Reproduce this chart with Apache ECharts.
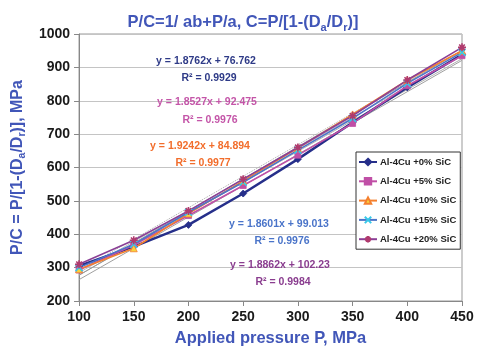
<!DOCTYPE html>
<html><head><meta charset="utf-8">
<script src="https://cdn.jsdelivr.net/npm/echarts@6/dist/echarts.min.js"></script>
<style>html,body{margin:0;padding:0;background:#fff}#c{width:486px;height:352px}</style>
</head><body><div id="c"></div>
<script>
var pressures = [100, 150, 200, 250, 300, 350, 400, 450];
var seriesNames = ['Al-4Cu +0% SiC', 'Al-4Cu +5% SiC', 'Al-4Cu +10% SiC', 'Al-4Cu +15% SiC', 'Al-4Cu +20% SiC'];
var sic0  = [305, 363, 428, 522, 625, 735, 840, 938];
var sic5  = [293, 368, 456, 546, 637, 732, 845, 935];
var sic10 = [295, 358, 462, 560, 658, 759, 862, 950];
var sic15 = [300, 370, 466, 556, 652, 747, 852, 945];
var sic20 = [310, 382, 470, 565, 660, 755, 862, 960];
// linear trendline end values (at P=100 and P=450), as drawn
var trendStart = [264, 278, 277, 285, 291];
var trendEnd   = [921, 926, 951, 936, 951];
var equations = ['y = 1.8762x + 76.762', 'y = 1.8527x + 92.475', 'y = 1.9242x + 84.894', 'y = 1.8601x + 99.013', 'y = 1.8862x + 102.23'];
var rSquared = ['R\u00b2 = 0.9929', 'R\u00b2 = 0.9976', 'R\u00b2 = 0.9977', 'R\u00b2 = 0.9976', 'R\u00b2 = 0.9984'];
var xTicks = [100, 150, 200, 250, 300, 350, 400, 450];
var yTicks = [200, 300, 400, 500, 600, 700, 800, 900, 1000];

var values = [sic0, sic5, sic10, sic15, sic20];
var lineColors = ['#262F8A', '#C04FA6', '#F4802F', '#4C74C8', '#8B3F96'];
var markerFill = ['#262F8A', '#C04FA6', '#F7D33C', '#37C8E8', '#8B3F96'];
var markerBorder = ['#262F8A', '#C04FA6', '#F4802F', '#37C8E8', '#B03A6E'];
var symbols = ['diamond', 'rect', 'triangle',
  'path://M0,0 L10,10 M10,0 L0,10',
  'path://M5,0 L5,10 M0,5 L10,5 M1.5,1.5 L8.5,8.5 M8.5,1.5 L1.5,8.5'];
var symbolSizes = [7, 6, 7, 7, 8];
var lineWidths = [2.5, 1.6, 1.6, 1.6, 1.6];
var annColors = ['#2E3A87', '#C455A8', '#F26D2B', '#4A74C9', '#8A3D8F'];
var trendColors = ['#a0a0a0', '#b0b0b0', '#999999', '#bbbbbb', '#aaaaaa'];

var font = 'Liberation Sans, Arial, sans-serif';
var blue = '#4156B8';
var series = [];
for (var i = 0; i < 5; i++) {
  series.push({
    name: 'trend' + i, type: 'line', silent: true, symbol: 'none', z: 1,
    data: [[xTicks[0], trendStart[i]], [xTicks[xTicks.length - 1], trendEnd[i]]],
    lineStyle: { color: trendColors[i], width: 1, type: i === 4 ? 'dotted' : 'solid' }
  });
}
for (var i = 0; i < 5; i++) {
  var isPath = i >= 3;
  series.push({
    name: seriesNames[i], type: 'line', z: 3,
    data: pressures.map(function (p, k) { return [p, values[i][k]]; }),
    symbol: symbols[i], symbolSize: symbolSizes[i],
    lineStyle: { color: lineColors[i], width: lineWidths[i] },
    itemStyle: { color: isPath ? 'none' : markerFill[i], borderColor: markerBorder[i], borderWidth: isPath ? 1.6 : 0.8 }
  });
}

var graphics = [];
var annPos = [[206, 56, 73], [207, 97, 115], [200, 141, 158], [279, 219, 236], [280, 260, 277]];
for (var i = 0; i < 5; i++) {
  graphics.push({ type: 'text', z: 10, style: { text: equations[i], x: annPos[i][0], y: annPos[i][1], align: 'center', fill: annColors[i], font: 'bold 10.5px ' + font } });
  graphics.push({ type: 'text', z: 10, style: { text: rSquared[i], x: annPos[i][0] + 3, y: annPos[i][2], align: 'center', fill: annColors[i], font: 'bold 10.5px ' + font } });
}

var chart = echarts.init(document.getElementById('c'), null, { renderer: 'canvas' });
chart.setOption({
  animation: false,
  backgroundColor: '#fff',
  title: {
    text: '{t|P/C=1/ ab+P/a, C=P/[1-(D}{s|a}{t|/D}{s|r}{t|)]}',
    left: 'center', top: 8,
    textStyle: {
      rich: {
        t: { fontSize: 16.5, fontWeight: 'bold', color: blue, fontFamily: font, lineHeight: 19 },
        s: { fontSize: 11, fontWeight: 'bold', color: blue, fontFamily: font, padding: [10, 0, 0, 0], lineHeight: 19 }
      }
    }
  },
  grid: { left: 77, right: 24, top: 34, bottom: 49, show: true, borderColor: '#999', borderWidth: 1 },
  legend: {
    data: seriesNames, orient: 'vertical', left: 356, top: 152,
    backgroundColor: '#fff', borderColor: '#333', borderWidth: 1, padding: [4, 4, 4, 2],
    itemWidth: 18, itemHeight: 8, itemGap: 7.3,
    textStyle: { fontSize: 9.5, fontWeight: 'bold', color: '#222', fontFamily: font, lineHeight: 12, padding: [0, 0, 0, -2] }
  },
  xAxis: {
    type: 'value', min: 100, max: 450, interval: 50,
    name: 'Applied pressure P, MPa', nameLocation: 'middle', nameGap: 29,
    nameTextStyle: { fontSize: 16.5, fontWeight: 'bold', color: blue, fontFamily: font },
    axisLine: { lineStyle: { color: '#888' } },
    axisTick: { show: true, length: 5, lineStyle: { color: '#888' } },
    axisLabel: { fontSize: 14, fontWeight: 'bold', color: '#1a1a1a', fontFamily: font, margin: 9 },
    splitLine: { show: false }
  },
  yAxis: {
    type: 'value', min: 200, max: 1000, interval: 100,
    name: '{n|P/C = P/[1-(D}{s|a}{n|/D}{s|r}{n|)], MPa}', nameLocation: 'middle', nameGap: 48, nameRotate: 90,
    nameTextStyle: {
      rich: {
        n: { fontSize: 16, fontWeight: 'bold', color: blue, fontFamily: font, lineHeight: 19 },
        s: { fontSize: 10.5, fontWeight: 'bold', color: blue, fontFamily: font, padding: [9, 0, 0, 0], lineHeight: 19 }
      }
    },
    axisLine: { show: true, lineStyle: { color: '#888' } },
    axisTick: { show: true, length: 5, lineStyle: { color: '#888' } },
    axisLabel: { fontSize: 14, fontWeight: 'bold', color: '#1a1a1a', fontFamily: font, margin: 9, formatter: function (v) { return String(v); } },
    splitLine: { show: true, lineStyle: { color: '#c4c4c4', width: 1 } }
  },
  series: series,
  graphic: graphics
});
</script></body></html>
